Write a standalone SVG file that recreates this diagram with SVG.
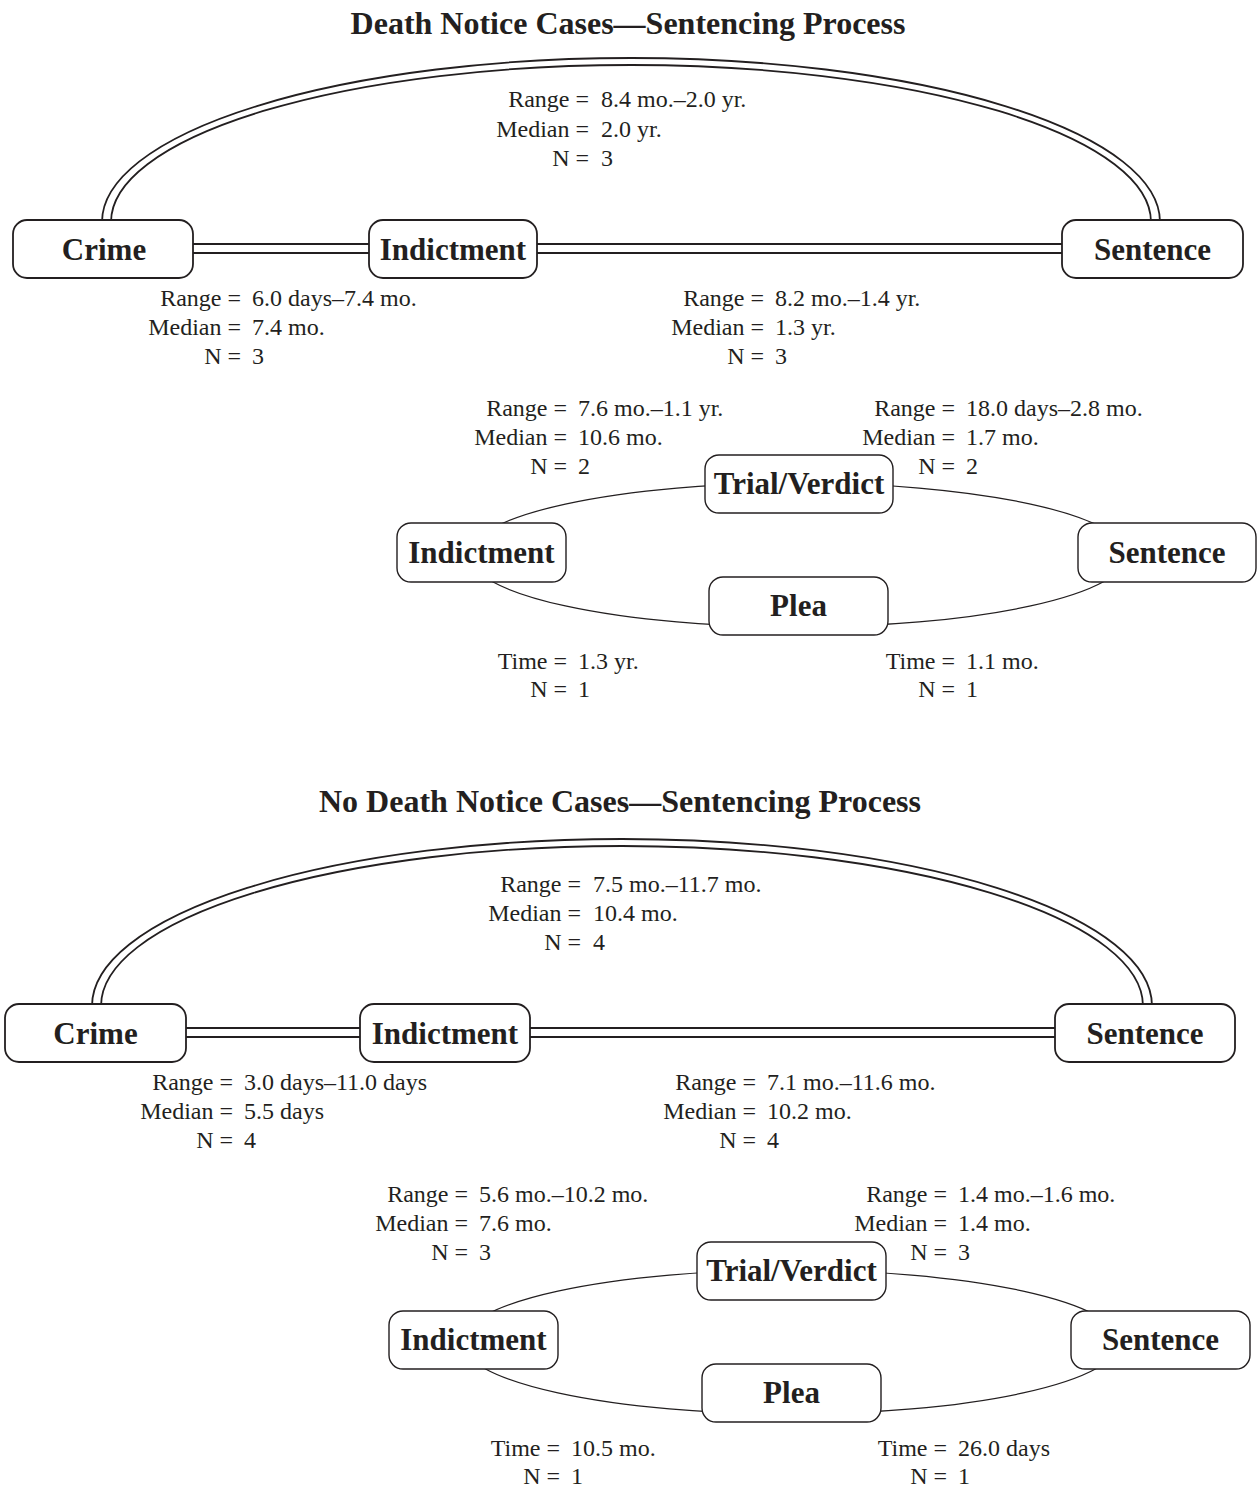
<svg xmlns="http://www.w3.org/2000/svg" width="1257" height="1487" viewBox="0 0 1257 1487">
<style>
.title{font-family:"Liberation Serif","Times New Roman",serif;font-weight:bold;font-size:32px;text-anchor:middle;fill:#231f20}
.node rect{fill:#fff;stroke:#231f20;stroke-width:1.8}
.node.small rect{stroke-width:1.4}
.node text{font-family:"Liberation Serif","Times New Roman",serif;font-weight:bold;font-size:31px;text-anchor:middle;fill:#231f20}
.dbl{fill:none;stroke:#231f20;stroke-width:1.8}
.sgl{fill:none;stroke:#231f20;stroke-width:1.2}
.lab{font-family:"Liberation Serif","Times New Roman",serif;font-size:24px;fill:#231f20}
.k{text-anchor:end}
</style>
<rect width="1257" height="1487" fill="#fff"/>
<text class="title" x="628" y="34">Death Notice Cases—Sentencing Process</text>
<text class="title" x="620" y="812">No Death Notice Cases—Sentencing Process</text>

<g id="connectors">
  <path class="dbl" d="M102 222 A529 164 0 0 1 1160 222"/>
  <path class="dbl" d="M111 222 A520 157 0 0 1 1151 222"/>
  <path class="dbl" d="M193 244 H369 M193 253 H369"/>
  <path class="dbl" d="M537 244 H1062 M537 253 H1062"/>
  <ellipse class="sgl" cx="798" cy="555" rx="329" ry="72"/>
  <path class="dbl" d="M92 1006 A530 167 0 0 1 1152 1006"/>
  <path class="dbl" d="M101 1006 A521 160 0 0 1 1143 1006"/>
  <path class="dbl" d="M186 1028 H360 M186 1037 H360"/>
  <path class="dbl" d="M530 1028 H1055 M530 1037 H1055"/>
  <ellipse class="sgl" cx="790.5" cy="1342" rx="329" ry="72"/>
</g>

<g id="d1-crime" class="node"><rect x="13" y="220" width="180" height="58" rx="14"/><text x="104" y="260">Crime</text></g>
<g id="d1-indictment" class="node"><rect x="369" y="220" width="168" height="58" rx="14"/><text x="453" y="260">Indictment</text></g>
<g id="d1-sentence" class="node"><rect x="1062" y="220" width="181" height="58" rx="14"/><text x="1152.5" y="260">Sentence</text></g>
<g id="d1-trial" class="node small"><rect x="705" y="455" width="188" height="58" rx="14"/><text x="799" y="494">Trial/Verdict</text></g>
<g id="d1-indictment2" class="node small"><rect x="397" y="523" width="169" height="59" rx="14"/><text x="481.5" y="563">Indictment</text></g>
<g id="d1-plea" class="node small"><rect x="709" y="577" width="179" height="58" rx="14"/><text x="798.5" y="616">Plea</text></g>
<g id="d1-sentence2" class="node small"><rect x="1078" y="523" width="178" height="59" rx="14"/><text x="1167" y="563">Sentence</text></g>

<g id="d2-crime" class="node"><rect x="5" y="1004" width="181" height="58" rx="14"/><text x="95.5" y="1044">Crime</text></g>
<g id="d2-indictment" class="node"><rect x="360" y="1004" width="170" height="58" rx="14"/><text x="445" y="1044">Indictment</text></g>
<g id="d2-sentence" class="node"><rect x="1055" y="1004" width="180" height="58" rx="14"/><text x="1145" y="1044">Sentence</text></g>
<g id="d2-trial" class="node small"><rect x="697" y="1242" width="189" height="58" rx="14"/><text x="791.5" y="1281">Trial/Verdict</text></g>
<g id="d2-indictment2" class="node small"><rect x="389" y="1311" width="169" height="58" rx="14"/><text x="473.5" y="1350">Indictment</text></g>
<g id="d2-plea" class="node small"><rect x="702" y="1364" width="179" height="58" rx="14"/><text x="791.5" y="1403">Plea</text></g>
<g id="d2-sentence2" class="node small"><rect x="1071" y="1311" width="179" height="58" rx="14"/><text x="1160.5" y="1350">Sentence</text></g>

<g id="labels">
  <text class="lab k" x="589" y="107">Range =</text><text class="lab" x="601" y="107">8.4 mo.–2.0 yr.</text>
  <text class="lab k" x="589" y="137">Median =</text><text class="lab" x="601" y="137">2.0 yr.</text>
  <text class="lab k" x="589" y="166">N =</text><text class="lab" x="601" y="166">3</text>

  <text class="lab k" x="241" y="306">Range =</text><text class="lab" x="252" y="306">6.0 days–7.4 mo.</text>
  <text class="lab k" x="241" y="335">Median =</text><text class="lab" x="252" y="335">7.4 mo.</text>
  <text class="lab k" x="241" y="364">N =</text><text class="lab" x="252" y="364">3</text>

  <text class="lab k" x="764" y="306">Range =</text><text class="lab" x="775" y="306">8.2 mo.–1.4 yr.</text>
  <text class="lab k" x="764" y="335">Median =</text><text class="lab" x="775" y="335">1.3 yr.</text>
  <text class="lab k" x="764" y="364">N =</text><text class="lab" x="775" y="364">3</text>

  <text class="lab k" x="567" y="416">Range =</text><text class="lab" x="578" y="416">7.6 mo.–1.1 yr.</text>
  <text class="lab k" x="567" y="445">Median =</text><text class="lab" x="578" y="445">10.6 mo.</text>
  <text class="lab k" x="567" y="474">N =</text><text class="lab" x="578" y="474">2</text>

  <text class="lab k" x="955" y="416">Range =</text><text class="lab" x="966" y="416">18.0 days–2.8 mo.</text>
  <text class="lab k" x="955" y="445">Median =</text><text class="lab" x="966" y="445">1.7 mo.</text>
  <text class="lab k" x="955" y="474">N =</text><text class="lab" x="966" y="474">2</text>

  <text class="lab k" x="567" y="669">Time =</text><text class="lab" x="578" y="669">1.3 yr.</text>
  <text class="lab k" x="567" y="697">N =</text><text class="lab" x="578" y="697">1</text>

  <text class="lab k" x="955" y="669">Time =</text><text class="lab" x="966" y="669">1.1 mo.</text>
  <text class="lab k" x="955" y="697">N =</text><text class="lab" x="966" y="697">1</text>

  <text class="lab k" x="581" y="892">Range =</text><text class="lab" x="593" y="892">7.5 mo.–11.7 mo.</text>
  <text class="lab k" x="581" y="921">Median =</text><text class="lab" x="593" y="921">10.4 mo.</text>
  <text class="lab k" x="581" y="950">N =</text><text class="lab" x="593" y="950">4</text>

  <text class="lab k" x="233" y="1090">Range =</text><text class="lab" x="244" y="1090">3.0 days–11.0 days</text>
  <text class="lab k" x="233" y="1119">Median =</text><text class="lab" x="244" y="1119">5.5 days</text>
  <text class="lab k" x="233" y="1148">N =</text><text class="lab" x="244" y="1148">4</text>

  <text class="lab k" x="756" y="1090">Range =</text><text class="lab" x="767" y="1090">7.1 mo.–11.6 mo.</text>
  <text class="lab k" x="756" y="1119">Median =</text><text class="lab" x="767" y="1119">10.2 mo.</text>
  <text class="lab k" x="756" y="1148">N =</text><text class="lab" x="767" y="1148">4</text>

  <text class="lab k" x="468" y="1202">Range =</text><text class="lab" x="479" y="1202">5.6 mo.–10.2 mo.</text>
  <text class="lab k" x="468" y="1231">Median =</text><text class="lab" x="479" y="1231">7.6 mo.</text>
  <text class="lab k" x="468" y="1260">N =</text><text class="lab" x="479" y="1260">3</text>

  <text class="lab k" x="947" y="1202">Range =</text><text class="lab" x="958" y="1202">1.4 mo.–1.6 mo.</text>
  <text class="lab k" x="947" y="1231">Median =</text><text class="lab" x="958" y="1231">1.4 mo.</text>
  <text class="lab k" x="947" y="1260">N =</text><text class="lab" x="958" y="1260">3</text>

  <text class="lab k" x="560" y="1456">Time =</text><text class="lab" x="571" y="1456">10.5 mo.</text>
  <text class="lab k" x="560" y="1484">N =</text><text class="lab" x="571" y="1484">1</text>

  <text class="lab k" x="947" y="1456">Time =</text><text class="lab" x="958" y="1456">26.0 days</text>
  <text class="lab k" x="947" y="1484">N =</text><text class="lab" x="958" y="1484">1</text>
</g>
</svg>
